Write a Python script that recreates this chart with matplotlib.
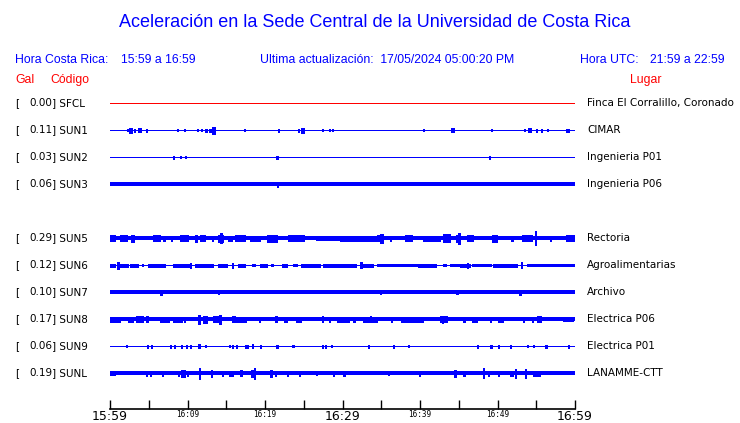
import matplotlib.pyplot as plt

# datos de las estaciones
gal = ["0.00", "0.11", "0.03", "0.06", "0.29", "0.12", "0.10", "0.17", "0.06", "0.19"]
codes = ["SFCL", "SUN1", "SUN2", "SUN3", "SUN5", "SUN6", "SUN7", "SUN8", "SUN9", "SUNL"]
places = ["Finca El Corralillo, Coronado", "CIMAR", "Ingenieria P01", "Ingenieria P06",
          "Rectoria", "Agroalimentarias", "Archivo", "Electrica P06", "Electrica P01", "LANAMME-CTT"]
rows = [0, 1, 2, 3, 5, 6, 7, 8, 9, 10]

tick_labels = ["15:59", "16:09", "16:19", "16:29", "16:39", "16:49", "16:59"]

# semiancho de la banda continua de cada traza (px)
base_hw = [0.5, 0.5, 0.5, 1.8, 2.0, 0.5, 1.7, 2.0, 0.5, 2.0]

# eventos: (minuto inicio, duracion en minutos, semiamplitud en px)
ev_sfcl = []
ev_sun1 = [(2.2, 0.15, 1.2), (2.5, 0.4, 2.5), (3.1, 0.15, 1.5), (3.6, 0.35, 1.8), (4.6, 0.15, 1.5),
           (8.6, 0.1, 1.2), (9.6, 0.1, 1.2), (11.2, 0.1, 1.2), (11.8, 0.1, 1.2), (12.3, 0.25, 1.5),
           (12.8, 0.25, 1.5), (13.2, 0.35, 3.5), (17.3, 0.1, 1), (21.7, 0.1, 1.5), (24.2, 0.15, 1.5),
           (24.6, 0.4, 2.5), (27.3, 0.1, 1), (28.3, 0.15, 1.2), (28.7, 0.1, 1), (40.4, 0.1, 1),
           (44.0, 0.4, 1.8), (49.2, 0.1, 1), (53.4, 0.1, 1.2), (53.9, 0.4, 1.8), (55.0, 0.1, 1.5),
           (55.6, 0.1, 1.5), (56.4, 0.1, 1), (58.9, 0.3, 1.5)]
ev_sun2 = [(8.1, 0.15, 1.5), (9.0, 0.1, 1), (9.7, 0.1, 1), (21.4, 0.25, 1.5), (48.9, 0.15, 1.5)]
ev_sun3 = [(21.5, 0.15, 2.5)]
ev_sun5 = [(0.0, 0.65, 3), (1.3, 0.9, 3), (2.7, 0.45, 3.5), (5.5, 0.9, 3), (6.8, 0.3, 2.5),
           (7.9, 0.15, 2.5), (9.0, 1.0, 3), (11.0, 0.2, 3.5), (11.6, 0.65, 3), (13.1, 0.15, 2.5),
           (13.9, 0.65, 3.5), (14.2, 0.2, 5), (15.2, 0.5, 2.5), (16.1, 1.3, 3), (18.1, 1.3, 2.5),
           (20.2, 1.3, 3.5), (23.0, 2.0, 3), (26.6, 4.4, 2.3), (29.7, 4.7, 2.5), (34.5, 0.7, 3),
           (34.9, 0.3, 4.5), (36.1, 0.15, 2.5), (38.1, 0.9, 3), (40.4, 2.2, 2.5), (43.0, 0.9, 4),
           (44.7, 0.4, 3.5), (44.9, 0.2, 5.5), (46.0, 0.8, 2.8), (49.3, 0.65, 3.5), (51.8, 0.15, 2.5),
           (53.1, 1.3, 2.8), (54.8, 0.15, 7), (56.8, 0.15, 2.5), (58.9, 1.1, 3)]
ev_sun6 = [(0.0, 0.65, 1.5), (0.9, 0.2, 3.5), (1.3, 1.0, 1.5), (2.6, 1.0, 1.5), (4.1, 0.2, 1.3),
           (4.9, 2.2, 1.5), (8.1, 2.2, 1.5), (10.3, 0.15, 2.5), (11.0, 2.3, 1.5), (13.9, 1.2, 1.5),
           (15.7, 0.15, 2.5), (16.5, 0.9, 1.5), (18.3, 0.45, 1.3), (19.4, 0.9, 1.5), (20.8, 0.2, 1.3),
           (22.2, 0.65, 1.5), (23.6, 0.5, 1.3), (24.7, 2.4, 1.5), (27.5, 3.5, 1.5), (29.7, 2.1, 1.5),
           (32.3, 0.2, 3), (32.4, 1.5, 1.5), (34.4, 5.2, 1.3), (39.7, 2.4, 1.5), (43.0, 0.4, 1.3),
           (43.9, 1.3, 1.3), (45.2, 1.3, 1.5), (46.0, 0.15, 2.5), (46.7, 2.4, 1.3), (49.4, 3.1, 1.5),
           (53.0, 0.2, 3), (53.8, 6.2, 1.3)]
ev_sun7 = [(6.5, 0.2, 2.5), (13.9, 0.15, 2.3), (34.8, 0.15, 2.3), (44.7, 0.15, 2.3), (52.8, 0.2, 2.5)]
ev_sun8 = [(0.0, 1.3, 2.5), (2.3, 0.65, 2.5), (3.4, 0.85, 3), (4.7, 0.15, 3), (6.5, 1.0, 2.5),
           (7.4, 0.15, 2.5), (8.1, 1.2, 2.5), (9.5, 0.15, 2.5), (11.4, 0.2, 4.5), (12.0, 0.5, 3.5),
           (13.3, 0.9, 3), (14.0, 0.3, 4.5), (15.7, 0.45, 3), (16.3, 1.3, 2.5), (19.2, 0.15, 2.5),
           (21.3, 0.25, 3), (22.5, 0.4, 2.5), (24.0, 0.7, 2.5), (27.3, 0.15, 3), (28.2, 0.15, 2.5),
           (29.3, 1.6, 2.5), (31.4, 0.15, 2.5), (32.6, 1.9, 2.5), (33.5, 0.2, 3), (36.3, 0.15, 2.5),
           (37.6, 2.8, 2.5), (42.6, 0.9, 3), (42.8, 0.2, 3.5), (45.6, 0.15, 2.5), (46.7, 0.65, 2.5),
           (49.0, 0.15, 2.5), (50.1, 0.65, 2.5), (53.3, 0.15, 2.5), (54.4, 0.15, 2.5), (55.1, 0.45, 3),
           (58.5, 1.3, 2.3)]
ev_sun9 = [(2.0, 0.1, 1), (4.8, 0.1, 1.5), (5.3, 0.1, 1.5), (7.7, 0.1, 1.5), (8.2, 0.15, 1.5),
           (9.1, 0.1, 1.5), (9.8, 0.1, 1.5), (10.3, 0.1, 1.5), (11.4, 0.2, 2), (12.3, 0.1, 1),
           (15.3, 0.1, 1.2), (15.8, 0.1, 1.5), (16.2, 0.1, 1.5), (17.4, 0.45, 1.5), (18.3, 0.15, 1.8),
           (19.3, 0.1, 1.5), (21.4, 0.3, 1.5), (23.5, 0.2, 1), (27.4, 0.1, 1.5), (27.8, 0.1, 1.5),
           (28.5, 0.1, 1), (33.3, 0.1, 1.5), (36.5, 0.1, 1.5), (38.4, 0.1, 1), (47.3, 0.2, 1.5),
           (49.0, 0.25, 1.5), (50.1, 0.1, 1.5), (51.6, 0.1, 1.5), (53.8, 0.1, 1), (54.6, 0.1, 1),
           (56.1, 0.3, 1.5), (59.1, 0.1, 1.5)]
ev_sunl = [(0.0, 0.65, 2.3), (4.6, 0.15, 2.5), (5.2, 0.15, 2.5), (6.7, 0.15, 2.5), (8.8, 0.15, 2.5),
           (9.2, 0.45, 3.5), (9.9, 0.15, 2.5), (11.5, 0.15, 5.5), (13.0, 0.15, 3.5), (14.4, 0.15, 2.5),
           (15.4, 0.15, 2.5), (15.7, 0.15, 2.5), (16.8, 0.25, 3), (18.2, 0.3, 3.5), (18.6, 0.15, 5.5),
           (20.6, 0.25, 3.5), (21.3, 0.15, 2.5), (22.8, 0.15, 2.5), (24.4, 0.15, 2.5), (26.6, 0.1, 2.3),
           (28.8, 0.15, 2.5), (30.1, 0.2, 2.5), (35.9, 0.1, 2.3), (39.9, 0.15, 2.5), (44.4, 0.3, 3.5),
           (45.6, 0.15, 2.5), (48.1, 0.2, 5), (48.8, 0.15, 2.5), (50.1, 0.15, 2.5), (51.6, 0.45, 2.5),
           (52.2, 0.15, 4.5), (53.5, 0.15, 4.5), (54.6, 0.9, 2.5)]
events = [ev_sfcl, ev_sun1, ev_sun2, ev_sun3, ev_sun5, ev_sun6, ev_sun7, ev_sun8, ev_sun9, ev_sunl]

W, H = 740, 423
fig = plt.figure(figsize=(W / 100, H / 100), dpi=100)
ax = fig.add_axes([110 / W, 14 / H, 465 / W, 319.5 / H])
ax.set_xlim(0, 60)
ax.set_ylim(11.333, -0.5)
px = 1 / 27.0  # un renglon = 27 px

for i, r in enumerate(rows):
    col = "red" if codes[i] == "SFCL" else "blue"
    hw = base_hw[i] * px
    ax.bar(0, 2 * hw, width=60, bottom=r - hw, align="edge", color=col, linewidth=0,
           antialiased=False)
    for t, w, a in events[i]:
        ax.bar(t, 2 * a * px, width=max(w, 0.13), bottom=r - a * px, align="edge",
               color=col, edgecolor=col, linewidth=0.4, antialiased=False)

# eje de tiempo
for s in ["top", "left", "right"]:
    ax.spines[s].set_visible(False)
ax.spines["bottom"].set_linewidth(1.2)
ax.set_yticks([])
ax.set_xticks(range(0, 61, 5))
labs = []
for m in range(0, 61, 5):
    labs.append(tick_labels[m // 10] if m % 10 == 0 else "")
ax.set_xticklabels(labs)
ax.tick_params(axis="x", direction="in", length=6.5, width=1, pad=1)
for lab in ax.get_xticklabels():
    if lab.get_text() in ("15:59", "16:29", "16:59"):
        lab.set_fontsize(9)
        lab.set_family("DejaVu Sans")
    else:
        lab.set_fontsize(5.5)
        lab.set_family("DejaVu Sans Mono")

# textos
def ft(x, y, s, **kw):
    fig.text(x / W, 1 - y / H, s, **kw)

ft(375, 22.5, "Aceleración en la Sede Central de la Universidad de Costa Rica", color="blue",
   fontsize=13, family="Liberation Sans", ha="center", va="center")
hdr = dict(color="blue", fontsize=8.8, family="Liberation Sans", va="center")
ft(15, 60, "Hora Costa Rica:", **hdr)
ft(121, 60, "15:59 a 16:59", **hdr)
ft(260, 60, "Ultima actualización:  17/05/2024 05:00:20 PM", **hdr)
ft(580, 60, "Hora UTC:", **hdr)
ft(650, 60, "21:59 a 22:59", **hdr)
red = dict(color="red", fontsize=8.8, family="Liberation Sans", va="center")
ft(15, 80, "Gal", **red)
ft(50, 80, "Código", **red)
ft(630, 80, "Lugar", **red)

lbl = dict(color="black", fontsize=7.5, family="DejaVu Sans", va="baseline")
for i, r in enumerate(rows):
    y = 103 + 27 * r + 3.2
    ft(15, y, "[", **lbl)
    ft(52, y, gal[i], ha="right", **lbl)
    ft(52, y, "] " + codes[i], **lbl)
    ft(587, y, places[i], **lbl)

fig.savefig("out.png", dpi=100)
